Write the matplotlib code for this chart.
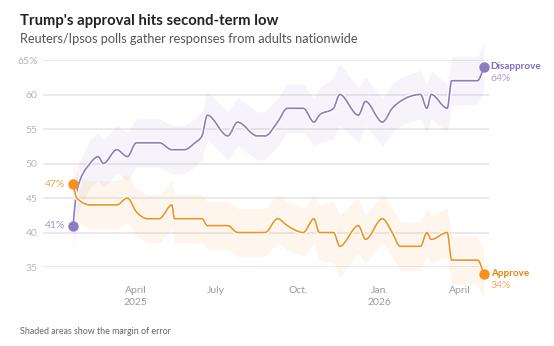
import numpy as np
import matplotlib
matplotlib.use("Agg")
import matplotlib.pyplot as plt
import matplotlib.dates as mdates
import matplotlib.patheffects as pe
from matplotlib.path import Path
from matplotlib.patches import PathPatch
from datetime import date

plt.rcParams['font.family'] = ['Lato', 'DejaVu Sans']

# Reuters/Ipsos poll results
poll_dates = [
    "2025-01-21", "2025-01-25", "2025-02-09", "2025-02-18", "2025-02-24",
    "2025-03-11", "2025-03-23", "2025-04-02", "2025-04-15", "2025-04-28",
    "2025-05-12", "2025-05-15", "2025-05-26", "2025-06-07", "2025-06-15",
    "2025-06-21", "2025-07-14", "2025-07-25", "2025-08-16", "2025-08-25",
    "2025-09-08", "2025-09-19", "2025-10-07", "2025-10-19", "2025-10-25",
    "2025-11-10", "2025-11-17", "2025-12-08", "2025-12-16", "2026-01-04",
    "2026-01-15", "2026-01-24", "2026-02-16", "2026-02-23", "2026-02-28",
    "2026-03-18", "2026-03-23", "2026-04-21", "2026-04-28",
]
approve = [47, 45, 44, 44, 44, 44, 45, 43, 42, 42, 44, 42, 42, 42, 42, 41, 41, 40, 40, 40,
           42, 41, 40, 42, 40, 40, 38, 41, 39, 42, 40, 38, 38, 40, 39, 40, 36, 36, 34]
disapprove = [41, 46, 50, 51, 50, 52, 51, 53, 53, 53, 52, 52, 52, 53, 54, 57, 54, 56, 54, 54,
              56, 58, 58, 56, 57, 58, 60, 57, 59, 56, 58, 59, 60, 58, 60, 58, 62, 62, 64]
margin = [4, 3.5, 3.5, 3.5, 3.5, 3.5, 3.5, 3.5, 3.5, 3.5, 3.5, 3.5, 3.5, 3.5, 3.5, 3.5, 3.5, 3.5, 3.5, 3.5,
          3.5, 3.5, 3.5, 3.5, 4, 4.5, 4.5, 4, 3.5, 3.5, 3.5, 3.5, 3.5, 3.5, 3.5, 3.5, 3.5, 3.5, 3.5]

y_ticks = [35, 40, 45, 50, 55, 60, 65]
y_tick_labels = ["35", "40", "45", "50", "55", "60", "65%"]
x_tick_dates = ["2025-04-01", "2025-07-01", "2025-10-01", "2026-01-01", "2026-04-01"]
x_tick_labels = ["April\n2025", "July", "Oct.", "Jan.\n2026", "April"]

PURPLE = "#8e7cc3"
ORANGE = "#f5921e"


def monotone_path(xs, ys):
    """Monotone cubic curve through the points, as bezier segments."""
    xs = np.asarray(xs, float)
    ys = np.asarray(ys, float)
    h = np.diff(xs)
    s = np.diff(ys) / h
    n = len(xs)
    t = np.zeros(n)
    for i in range(1, n - 1):
        s0, s1 = s[i - 1], s[i]
        p = (s0 * h[i] + s1 * h[i - 1]) / (h[i - 1] + h[i])
        t[i] = (np.sign(s0) + np.sign(s1)) * min(abs(s0), abs(s1), 0.5 * abs(p))
    t[0] = (3 * s[0] - t[1]) / 2
    t[-1] = (3 * s[-1] - t[-2]) / 2
    verts = [(xs[0], ys[0])]
    codes = [Path.MOVETO]
    for i in range(n - 1):
        dx = h[i] / 3
        verts += [(xs[i] + dx, ys[i] + t[i] * dx),
                  (xs[i + 1] - dx, ys[i + 1] - t[i + 1] * dx),
                  (xs[i + 1], ys[i + 1])]
        codes += [Path.CURVE4] * 3
    return Path(verts, codes)


x = mdates.datestr2num(poll_dates)
a = np.array(approve, float)
d = np.array(disapprove, float)
m = np.array(margin, float)

W, H = 554, 346
fig = plt.figure(figsize=(W / 100, H / 100), dpi=100)
ax = fig.add_axes([43 / W, 1 - 267 / H, (489 - 43) / W, (267 - 60) / H])
ax.set_ylim(35, 65)
ax.set_xlim(mdates.date2num(date(2024, 12, 18)), mdates.date2num(date(2026, 5, 4)))

for sp in ax.spines.values():
    sp.set_visible(False)

ax.set_yticks(y_ticks)
ax.set_yticklabels(y_tick_labels)
ax.tick_params(axis="y", length=0, pad=4, labelsize=7.5, labelcolor="#b5b5b5")
ax.grid(axis="y", color="#e4e4e4", lw=1.1)
ax.set_axisbelow(True)

ax.set_xticks(mdates.datestr2num(x_tick_dates))
ax.set_xticklabels(x_tick_labels, linespacing=1.35)
ax.tick_params(axis="x", length=0, pad=14, labelsize=7.5, labelcolor="#9a9a9a")

# margin of error bands
ax.fill_between(x, d - m, d + m, color=PURPLE, alpha=0.08, lw=0, zorder=1, clip_on=False)
ax.fill_between(x, a - m, a + m, color=ORANGE, alpha=0.08, lw=0, zorder=1, clip_on=False)

halo = [pe.Stroke(linewidth=3, foreground="white"), pe.Normal()]
for vals, col in [(d, PURPLE), (a, ORANGE)]:
    patch = PathPatch(monotone_path(x, vals), fill=False, edgecolor=col, lw=1.2, zorder=3,
                      capstyle="round", joinstyle="round", clip_on=False)
    patch.set_path_effects(halo)
    ax.add_patch(patch)
    ax.plot([x[0], x[-1]], [vals[0], vals[-1]], "o", color=col, ms=7.5, mec="none",
            zorder=4, clip_on=False)

# start labels
ax.annotate(f"{approve[0]}%", (x[0], a[0]), xytext=(-8, 0), textcoords="offset pixels",
            ha="right", va="center", fontsize=7.5, color="#e8a15a")
ax.annotate(f"{disapprove[0]}%", (x[0], d[0]), xytext=(-8, 0), textcoords="offset pixels",
            ha="right", va="center", fontsize=7.5, color="#a394d0")

# end labels
ax.annotate("Disapprove", (x[-1], d[-1]), xytext=(7, 0), textcoords="offset pixels",
            ha="left", va="center", fontsize=7.1, fontweight="bold", color="#7f6bb8",
            annotation_clip=False)
ax.annotate(f"{disapprove[-1]}%", (x[-1], d[-1]), xytext=(7, -12), textcoords="offset pixels",
            ha="left", va="center", fontsize=7.5, color="#ab9dd3", annotation_clip=False)
ax.annotate("Approve", (x[-1], a[-1]), xytext=(7, 0), textcoords="offset pixels",
            ha="left", va="center", fontsize=7.1, fontweight="bold", color="#e5820c",
            annotation_clip=False)
ax.annotate(f"{approve[-1]}%", (x[-1], a[-1]), xytext=(7, -12), textcoords="offset pixels",
            ha="left", va="center", fontsize=7.5, color="#efab62", annotation_clip=False)

fig.text(20 / W, 1 - 25 / H, "Trump's approval hits second-term low", fontsize=10.75,
         fontweight="bold", color="#222222", va="baseline")
fig.text(20 / W, 1 - 43 / H, "Reuters/Ipsos polls gather responses from adults nationwide",
         fontsize=9.2, color="#555555", va="baseline")
fig.text(20 / W, 1 - 334 / H, "Shaded areas show the margin of error", fontsize=6.4,
         color="#666666", va="baseline")

fig.savefig("out.png", dpi=100, facecolor="white")
